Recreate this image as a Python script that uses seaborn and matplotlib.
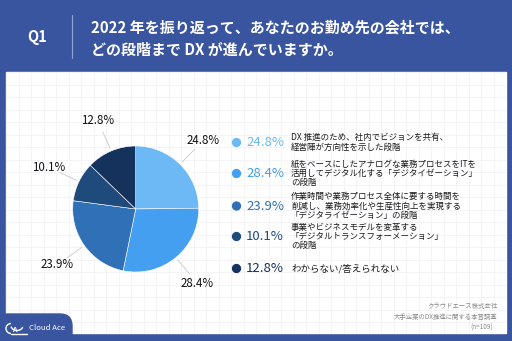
import matplotlib
matplotlib.use("Agg")
import matplotlib.pyplot as plt
import seaborn as sns
import numpy as np
from matplotlib.patches import Rectangle, FancyBboxPatch, Arc

# ---- data ----
values = [24.8, 28.4, 23.9, 10.1, 12.8]
pct_labels = ["24.8%", "28.4%", "23.9%", "10.1%", "12.8%"]
descriptions = [
    "DX 推進のため、社内でビジョンを共有、\n経営陣が方向性を示した段階",
    "紙をベースにしたアナログな業務プロセスをITを\n活用してデジタル化する「デジタイゼーション」\nの段階",
    "作業時間や業務プロセス全体に要する時間を\n削減し、業務効率化や生産性向上を実現する\n「デジタライゼーション」の段階",
    "事業やビジネスモデルを変革する\n「デジタルトランスフォーメーション」\nの段階",
    "わからない/答えられない",
]
colors = ["#6DB9F6", "#459FF1", "#2F70B6", "#1F4B7C", "#15325C"]
title_q = "Q1"
title_lines = "2022 年を振り返って、あなたのお勤め先の会社では、\nどの段階まで DX が進んでいますか。"
footer_lines = ["クラウドエース株式会社", "大手企業のDX推進に関する本音調査", "(n=109)"]

sns.set_theme(style="white")
plt.rcParams['font.family'] = ['Noto Sans CJK JP', 'DejaVu Sans']
palette = sns.color_palette(colors)

W, H = 512, 341
fig = plt.figure(figsize=(W / 100, H / 100), dpi=100)
bg = fig.add_axes([0, 0, 1, 1])
bg.set_xlim(0, W)
bg.set_ylim(H, 0)
bg.axis("off")

blue = "#3A559F"
bg.add_patch(Rectangle((0, 0), W, H, color=blue, zorder=0))
bg.add_patch(Rectangle((6, 72), 500, 261, color="white", zorder=1))
# faint grid
for gx in np.arange(6, 506, 12.5):
    bg.plot([gx, gx], [72, 333], color="#F3F3F5", lw=0.6, zorder=1.5)
for gy in np.arange(72, 333, 12.5):
    bg.plot([6, 506], [gy, gy], color="#F3F3F5", lw=0.6, zorder=1.5)

# header
bg.text(37, 37, title_q, color="white", fontsize=10.5, fontweight="bold",
        ha="center", va="center", zorder=3)
bg.plot([72, 72], [15, 58], color="#8FA3D4", lw=0.8, zorder=3)
bg.text(91, 38.5, title_lines, color="white", fontsize=10.8, fontweight="bold",
        ha="left", va="center", linespacing=1.45, zorder=3)

# legend
leg_y = [142.5, 173.5, 206, 236.5, 268.5]
sns.scatterplot(x=[236.5] * len(values), y=leg_y, hue=pct_labels, palette=palette,
                s=45, legend=False, linewidth=0, ax=bg, zorder=4)
for i, (y, p, d, c) in enumerate(zip(leg_y, pct_labels, descriptions, colors)):
    bg.text(246, y, p, color=c, fontsize=9.5, ha="left", va="center", zorder=4)
    bg.text(291, y, d, color="#1A1A1A", fontsize=6.8 if i == 4 else 6.1,
            ha="left", va="center", linespacing=1.05, zorder=4)

# footer
for i, t in enumerate(footer_lines):
    bg.text(497 - (4 if i == 2 else 0), 306 + i * 10.7, t, color="#8A8A8A", fontsize=4.6,
            ha="right", va="center", zorder=4)

# logo tab
bg.add_patch(FancyBboxPatch((-10, 314), 82, 40, boxstyle="round,pad=0,rounding_size=12",
                            color=blue, zorder=5))
bg.text(29, 328.5, "Cloud Ace", color="white", fontsize=5.6, ha="left", va="center", zorder=6)
# cloud icon outline
bg.add_patch(Arc((11, 328.5), 10, 10, theta1=90, theta2=270, color="white", lw=1.0, zorder=6))
bg.add_patch(Arc((17, 325.5), 12, 10, theta1=15, theta2=170, color="white", lw=1.0, zorder=6))
bg.plot([11, 27], [333.5, 333.5], color="white", lw=1.0, zorder=6)
bg.text(14, 329.5, "A", color="white", fontsize=5, fontweight="bold", ha="center",
        va="center", zorder=6)

# pie
cx, cy, r = 135.7, 209, 63
span = 1.6
aw = 2 * span * r
ax = fig.add_axes([(cx - aw / 2) / W, ((H - cy) - aw / 2) / H, aw / W, aw / H])
wedges, texts = ax.pie(values, colors=palette, startangle=90, counterclock=False,
                       labels=pct_labels, labeldistance=1.53,
                       textprops=dict(fontsize=8.3, color="#111111", ha="center", va="center"),
                       wedgeprops=dict(linewidth=0.4, edgecolor="white"))
ax.set_xlim(-span, span)
ax.set_ylim(-span, span)
ax.set_aspect("equal")
ax.axis("off")
for w in wedges:
    ang = np.deg2rad((w.theta1 + w.theta2) / 2)
    ax.plot([1.05 * np.cos(ang), 1.33 * np.cos(ang)],
            [1.05 * np.sin(ang), 1.33 * np.sin(ang)], color="#C8C8C8", lw=0.6)

fig.savefig("out.png", dpi=100)
